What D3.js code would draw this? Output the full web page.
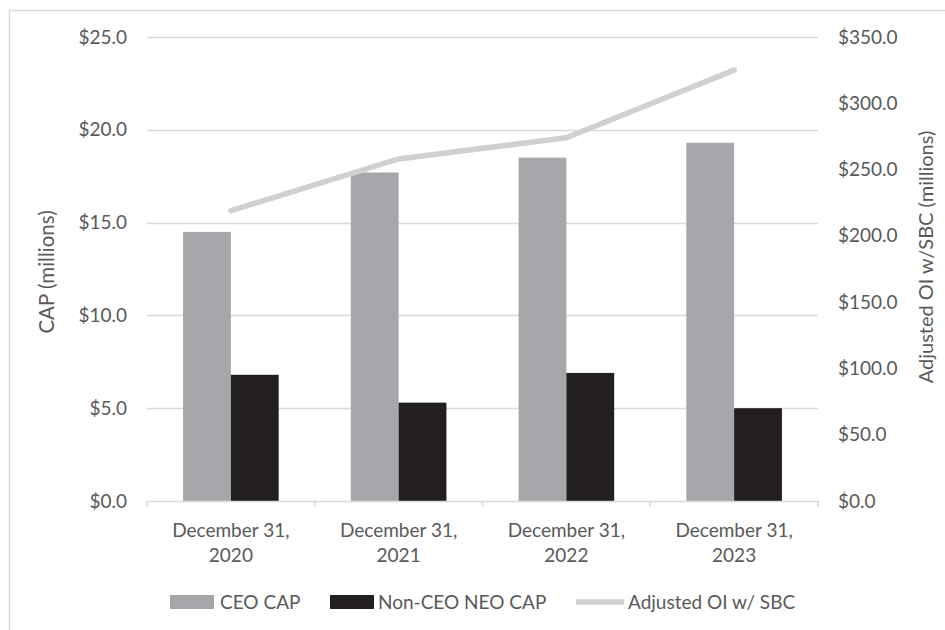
<!DOCTYPE html>
<html>
<head>
<meta charset="utf-8">
<script src="https://cdn.jsdelivr.net/npm/d3@7"></script>
<style>
  body { margin: 0; background: #fff; }
  svg text { font-family: Lato, "Open Sans", sans-serif; fill: #595959; }
</style>
</head>
<body>
<div id="chart"></div>
<script>
const years = ['2020', '2021', '2022', '2023'];
const categories = years.map((y) => ['December 31,', y]);
const ceoCap = [14.5, 17.7, 18.5, 19.3];
const nonCeoCap = [6.8, 5.3, 6.9, 5.0];
const adjOI = [219, 258, 274, 325];
const leftTicks = [0, 5, 10, 15, 20, 25];
const rightTicks = [0, 50, 100, 150, 200, 250, 300, 350];
const seriesNames = ['CEO CAP', 'Non-CEO NEO CAP', 'Adjusted OI w/ SBC'];

const width = 945;
const height = 630;
const margin = { top: 37, right: 127, bottom: 129, left: 147 };
const colors = { ceo: '#a6a7aa', nonCeo: '#231f20', line: '#d0d0d0', grid: '#d9d9d9' };

const svg = d3
  .select('#chart')
  .append('svg')
  .attr('width', width)
  .attr('height', height);

// frame (only left and top edges show in the crop)
svg.append('path')
  .attr('d', `M9.5,${height} L9.5,10.5 L${width},10.5`)
  .attr('fill', 'none')
  .attr('stroke', '#d9d9d9')
  .attr('stroke-width', 1.5);

const x = d3
  .scaleBand()
  .domain(years)
  .range([margin.left, width - margin.right]);
const yLeft = d3
  .scaleLinear()
  .domain([0, 25])
  .range([height - margin.bottom, margin.top]);
const yRight = d3
  .scaleLinear()
  .domain([0, 350])
  .range([height - margin.bottom, margin.top]);

const barW = x.bandwidth() * 0.285;

// gridlines
svg.append('g')
  .selectAll('line')
  .data(leftTicks.filter((d) => d > 0))
  .join('line')
  .attr('x1', margin.left)
  .attr('x2', width - margin.right)
  .attr('y1', (d) => Math.round(yLeft(d)) + 0.5)
  .attr('y2', (d) => Math.round(yLeft(d)) + 0.5)
  .attr('stroke', colors.grid)
  .attr('stroke-width', 1.3);

// bars
const groups = svg.append('g')
  .selectAll('g')
  .data(years)
  .join('g');
groups.append('rect')
  .attr('x', (d) => x(d) + x.bandwidth() / 2 - barW)
  .attr('width', barW)
  .attr('y', (d, i) => yLeft(ceoCap[i]))
  .attr('height', (d, i) => yLeft(0) - yLeft(ceoCap[i]))
  .attr('fill', colors.ceo);
groups.append('rect')
  .attr('x', (d) => x(d) + x.bandwidth() / 2)
  .attr('width', barW)
  .attr('y', (d, i) => yLeft(nonCeoCap[i]))
  .attr('height', (d, i) => yLeft(0) - yLeft(nonCeoCap[i]))
  .attr('fill', colors.nonCeo);

// x axis
const xAxis = svg.append('g')
  .attr('transform', `translate(0,${yLeft(0)})`)
  .call(d3.axisBottom(x).tickSize(0).tickFormat(''));
xAxis.select('.domain').attr('stroke', colors.grid).attr('stroke-width', 1.5);
xAxis.selectAll('.tk')
  .data(d3.range(years.length + 1))
  .join('line')
  .attr('class', 'tk')
  .attr('x1', (i) => margin.left + i * x.step())
  .attr('x2', (i) => margin.left + i * x.step())
  .attr('y1', 0)
  .attr('y2', 6)
  .attr('stroke', colors.grid)
  .attr('stroke-width', 1.5);

const xLabels = svg.append('g')
  .selectAll('text')
  .data(years)
  .join('text')
  .attr('text-anchor', 'middle')
  .style('font-size', '19px')
  .attr('x', (d) => x(d) + x.bandwidth() / 2)
  .attr('y', yLeft(0) + 36);
xLabels.selectAll('tspan')
  .data((d, i) => categories[i])
  .join('tspan')
  .attr('x', function() { return d3.select(this.parentNode).attr('x'); })
  .attr('dy', (d, i) => (i === 0 ? 0 : 25))
  .text((d) => d);

// left axis
const leftAxis = svg.append('g')
  .attr('transform', `translate(${margin.left},0)`)
  .call(d3.axisLeft(yLeft).tickValues(leftTicks).tickSize(0).tickPadding(20)
    .tickFormat((d) => '$' + d3.format('.1f')(d)));
leftAxis.select('.domain').remove();
leftAxis.selectAll('text').style('font-size', '19px');

// right axis
const rightAxis = svg.append('g')
  .attr('transform', `translate(${width - margin.right},0)`)
  .call(d3.axisRight(yRight).tickValues(rightTicks).tickSize(0).tickPadding(20)
    .tickFormat((d) => '$' + d3.format('.1f')(d)));
rightAxis.select('.domain').remove();
rightAxis.selectAll('text').style('font-size', '19px');

// axis titles
svg.append('text')
  .attr('transform', 'translate(47,272) rotate(-90)')
  .attr('text-anchor', 'middle')
  .attr('dy', '0.35em')
  .style('font-size', '20.5px')
  .text('CAP (millions)');
svg.append('text')
  .attr('transform', 'translate(926,257) rotate(-90)')
  .attr('text-anchor', 'middle')
  .attr('dy', '0.35em')
  .style('font-size', '20px')
  .text('Adjusted OI w/SBC (millions)');

// line
const line = d3.line()
  .x((d, i) => x(years[i]) + x.bandwidth() / 2)
  .y((d) => yRight(d));
svg.append('path')
  .datum(adjOI)
  .attr('d', line)
  .attr('fill', 'none')
  .attr('stroke', colors.line)
  .attr('stroke-width', 5.5)
  .attr('stroke-linecap', 'round')
  .attr('stroke-linejoin', 'round');

// legend
const legendY = 602;
const legend = svg.append('g').style('font-size', '19px');
const items = [
  { x: 170, kind: 'rect', color: colors.ceo, tx: 220 },
  { x: 330, kind: 'rect', color: colors.nonCeo, tx: 378 },
  { x: 576, kind: 'line', color: colors.line, tx: 628 },
];
items.forEach((it, i) => {
  if (it.kind === 'rect') {
    legend.append('rect')
      .attr('x', it.x)
      .attr('y', legendY - 7)
      .attr('width', 44)
      .attr('height', 14)
      .attr('fill', it.color);
  } else {
    legend.append('line')
      .attr('x1', it.x)
      .attr('x2', it.x + 48)
      .attr('y1', legendY)
      .attr('y2', legendY)
      .attr('stroke', it.color)
      .attr('stroke-width', 5.5);
  }
  legend.append('text')
    .attr('x', it.tx)
    .attr('y', legendY)
    .attr('dy', '0.35em')
    .text(seriesNames[i]);
});
</script>
</body>
</html>
